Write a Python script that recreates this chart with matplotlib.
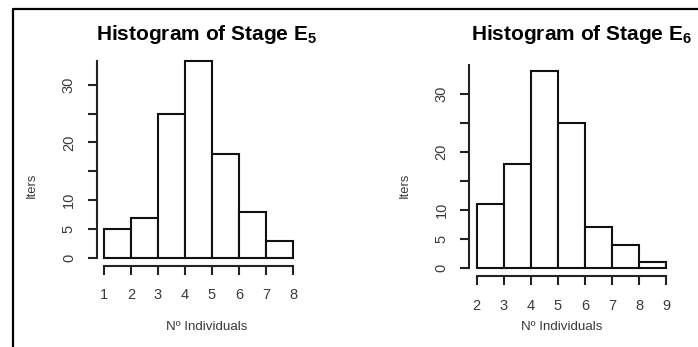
import numpy as np
import matplotlib
matplotlib.use('Agg')
import matplotlib.pyplot as plt
from matplotlib.lines import Line2D

plt.rcParams['font.family'] = ['Liberation Sans', 'DejaVu Sans']
plt.rcParams['mathtext.fontset'] = 'custom'
plt.rcParams['mathtext.bf'] = 'Liberation Sans:bold'
plt.rcParams['mathtext.rm'] = 'Liberation Sans'

# histogram data
e5_edges = [1, 2, 3, 4, 5, 6, 7, 8]
e5_counts = [5, 7, 25, 34, 18, 8, 3]
e6_edges = [2, 3, 4, 5, 6, 7, 8, 9]
e6_counts = [11, 18, 34, 25, 7, 4, 1]
y_ticks = [0, 5, 10, 15, 20, 25, 30]
y_labels = ['0', '5', '10', '', '20', '', '30']

W, H = 698, 347
fig = plt.figure(figsize=(W / 100, H / 100), dpi=100)

def px_axes(x0, x1, y0, y1):
    # pixel box (top-left origin) -> figure axes
    return fig.add_axes([x0 / W, 1 - y0 / H, (x1 - x0) / W, (y0 - y1) / H])

def draw_hist(ax, edges, counts, ytop, xpad):
    edges = np.array(edges)
    ax.bar(edges[:-1], counts, width=np.diff(edges), align='edge',
           facecolor='white', edgecolor='#111111', linewidth=1.5, clip_on=False)
    ax.set_xlim(edges[0], edges[-1])
    ax.set_ylim(0, ytop)
    for s in ['top', 'right']:
        ax.spines[s].set_visible(False)
    ax.spines['left'].set_position(('outward', 5.2))
    ax.spines['bottom'].set_position(('outward', 5.8))
    ax.spines['left'].set_bounds(0, ytop)
    ax.spines['bottom'].set_bounds(edges[0], edges[-1])
    for s in ['left', 'bottom']:
        ax.spines[s].set_linewidth(1.5)
        ax.spines[s].set_color('#222222')
    ax.set_xticks(edges)
    ax.set_yticks(y_ticks)
    ax.set_yticklabels(y_labels, rotation=90, va='center')
    ax.tick_params(axis='both', length=6.5, width=1.5, color='#222222',
                   labelcolor='#3a3a3a', labelsize=10.5)
    ax.tick_params(axis='y', pad=8.5)
    ax.tick_params(axis='x', pad=xpad)
    ax.patch.set_visible(False)

ax1 = px_axes(104, 293, 258, 258 - 34 * 5.78)
draw_hist(ax1, e5_edges, e5_counts, 34, 9.5)

ax2 = px_axes(476.7, 666, 267.7, 267.7 - 35 * 5.78)
draw_hist(ax2, e6_edges, e6_counts, 35, 10.5)

fig.text(207 / W, 1 - 35 / H, r'Histogram of Stage $\mathbf{E_5}$', fontsize=15,
         fontweight='bold', ha='center', va='center', color='black')
fig.text(581 / W, 1 - 35 / H, r'Histogram of Stage $\mathbf{E_6}$', fontsize=15,
         fontweight='bold', ha='center', va='center', color='black')

fig.text(207 / W, 1 - 327 / H, 'Nº Individuals', fontsize=9.6, ha='center', va='center', color='#3a3a3a')
fig.text(562 / W, 1 - 327 / H, 'Nº Individuals', fontsize=9.6, ha='center', va='center', color='#3a3a3a')
fig.text(32 / W, 1 - 185 / H, 'Iters', fontsize=9.4, rotation=90, ha='center', va='center', color='#3a3a3a')
fig.text(405 / W, 1 - 185 / H, 'Iters', fontsize=9.4, rotation=90, ha='center', va='center', color='#3a3a3a')

# outer frame of the screenshot
fig.add_artist(Line2D([13 / W, 13 / W, 1], [0, 1 - 9 / H, 1 - 9 / H],
                      color='black', linewidth=1.6, transform=fig.transFigure))

fig.savefig('out.png', dpi=100)
